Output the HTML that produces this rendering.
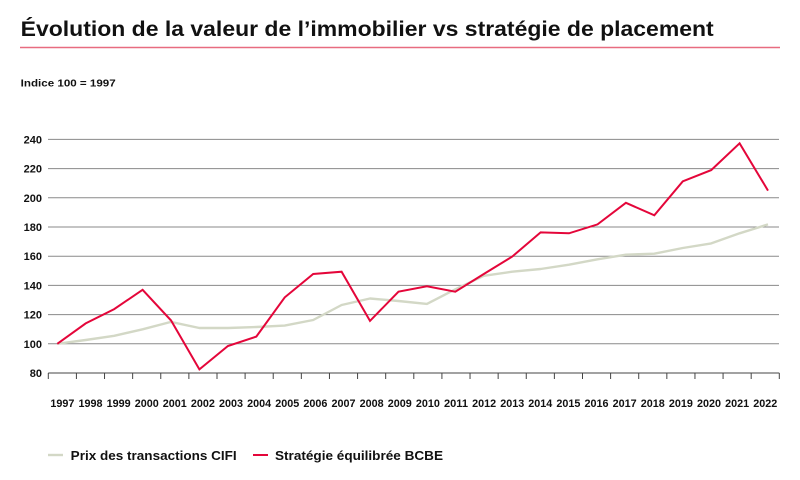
<!DOCTYPE html>
<html><head><meta charset="utf-8"><style>
html,body{margin:0;padding:0;background:#fff;}
svg{display:block;}
text{font-family:"Liberation Sans",Arial,sans-serif;font-weight:bold;fill:#111;}
</style></head><body>
<svg width="800" height="480" viewBox="0 0 800 480" xmlns="http://www.w3.org/2000/svg">
<text x="20.7" y="36" font-size="21" textLength="693" lengthAdjust="spacingAndGlyphs">Évolution de la valeur de l’immobilier vs stratégie de placement</text>
<line x1="20" y1="47.5" x2="780" y2="47.5" stroke="#e86c80" stroke-width="1.6"/>
<text x="20.7" y="86.3" font-size="10" textLength="95" lengthAdjust="spacingAndGlyphs">Indice 100 = 1997</text>
<g stroke="#8a8a8a" stroke-width="1">
<line x1="48" y1="139.4" x2="779" y2="139.4"/>
<line x1="48" y1="168.6" x2="779" y2="168.6"/>
<line x1="48" y1="197.8" x2="779" y2="197.8"/>
<line x1="48" y1="227" x2="779" y2="227"/>
<line x1="48" y1="256.2" x2="779" y2="256.2"/>
<line x1="48" y1="285.4" x2="779" y2="285.4"/>
<line x1="48" y1="314.6" x2="779" y2="314.6"/>
<line x1="48" y1="343.8" x2="779" y2="343.8"/>
</g>
<g font-size="11" text-anchor="end">
<text x="42" y="143.4">240</text>
<text x="42" y="172.6">220</text>
<text x="42" y="201.8">200</text>
<text x="42" y="231">180</text>
<text x="42" y="260.2">160</text>
<text x="42" y="289.4">140</text>
<text x="42" y="318.6">120</text>
<text x="42" y="347.8">100</text>
<text x="42" y="377">80</text>
</g>
<line x1="48.3" y1="373" x2="779.3" y2="373" stroke="#444" stroke-width="1"/>
<g id="ticks" stroke="#444" stroke-width="1"></g>
<g id="xl" font-size="10.7" text-anchor="middle"></g>
<polyline id="gray" fill="none" stroke="#d3d8c6" stroke-width="2.4" stroke-linejoin="round"/>
<polyline id="red" fill="none" stroke="#e4063a" stroke-width="2" stroke-linejoin="miter"/>
<line x1="48" y1="455" x2="63" y2="455" stroke="#d3d8c6" stroke-width="2.4"/>
<text x="70.7" y="460" font-size="13" textLength="166" lengthAdjust="spacingAndGlyphs">Prix des transactions CIFI</text>
<line x1="253" y1="455" x2="268" y2="455" stroke="#e4063a" stroke-width="2"/>
<text x="275" y="460" font-size="13" textLength="168" lengthAdjust="spacingAndGlyphs">Stratégie équilibrée BCBE</text>
</svg>
<script>
(function(){
var ns="http://www.w3.org/2000/svg";
var tg=document.getElementById("ticks"),xl=document.getElementById("xl");
var tw=(779.3-48.3)/26;
for(var i=0;i<=26;i++){var x=48.3+tw*i;var l=document.createElementNS(ns,"line");l.setAttribute("x1",x);l.setAttribute("x2",x);l.setAttribute("y1",373);l.setAttribute("y2",379);tg.appendChild(l);}
for(var i=0;i<26;i++){var t=document.createElementNS(ns,"text");t.setAttribute("x",48.3+tw*(i+0.5));t.setAttribute("y",407);t.setAttribute("textLength","24");t.setAttribute("lengthAdjust","spacingAndGlyphs");t.textContent=String(1997+i);xl.appendChild(t);}
var red=[100,114,123.8,137,116,82.5,98.5,104.9,131.8,147.8,149.4,115.7,135.7,139.4,135.7,147.8,159.7,176.3,175.7,181.8,196.6,188,211.3,219,237.3,204.9];
var gray=[100,102.6,105.5,109.9,115,110.8,110.8,111.5,112.5,116.3,126.6,131,129.3,127.3,137.3,146.6,149.4,151.2,154.2,157.9,161,161.7,165.6,168.8,175.7,181.8];
function pts(a){return a.map(function(v,i){return (57.3+28.43*i).toFixed(1)+","+(373-(v-80)*1.46).toFixed(1);}).join(" ");}
document.getElementById("red").setAttribute("points",pts(red));
document.getElementById("gray").setAttribute("points",pts(gray));
})();
</script>
</body></html>
